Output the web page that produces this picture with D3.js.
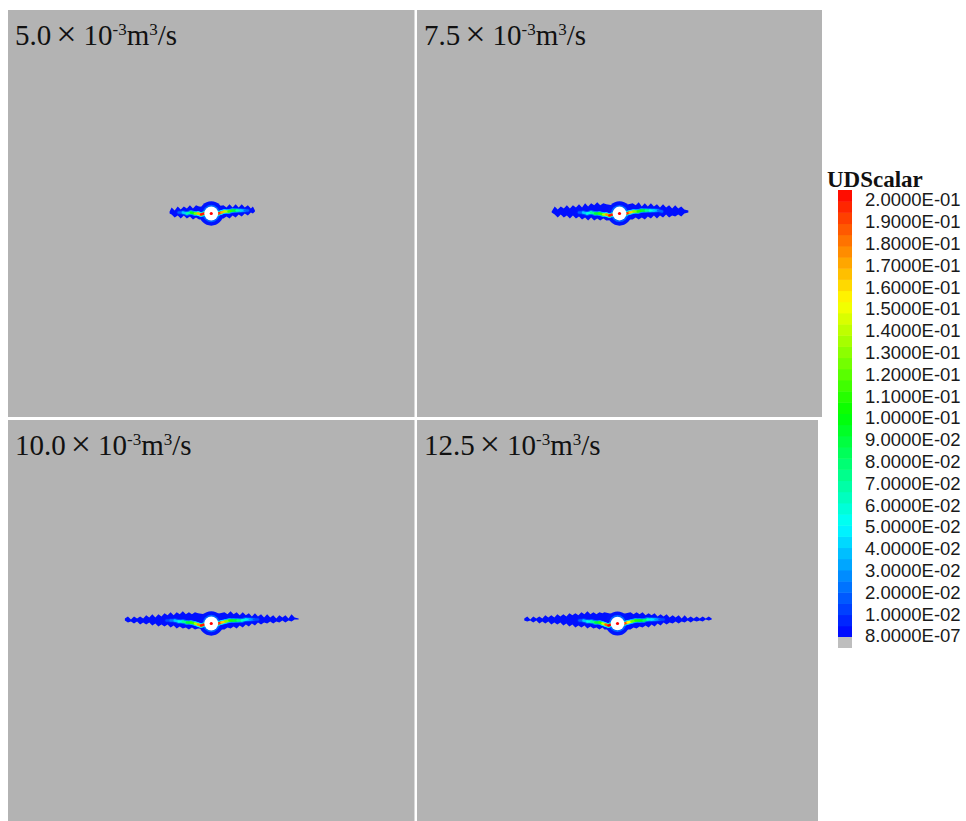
<!DOCTYPE html>
<html lang="en">

<head>
    <meta charset="UTF-8">
    <title>UDScalar fracture panels</title>
    <script src="https://d3js.org/d3.v7.min.js"></script>
    <style>
        body {
            margin: 0;
            background: #fff;
        }
    </style>
</head>

<body>
    <div id="chart"></div>
    <script>
        // Injection rates (x10^-3 m3/s), one per panel
        const rates = ["5.0", "7.5", "10.0", "12.5"];

        // Crack envelope per panel: [x (m), upper edge (m), lower edge (m)]
        const crack50 = [
            [-4.1, 0.2, 0.0], [-3.9, 0.6, -0.1], [-3.6, 0.3, -0.4], [-3.3, 0.7, -0.2],
            [-3.0, 0.4, -0.5], [-2.7, 0.7, -0.2], [-2.4, 0.5, -0.5], [-2.1, 0.8, -0.3],
            [-1.8, 0.5, -0.6], [-1.5, 0.8, -0.4], [-1.2, 0.7, -0.6], [0, 0.6, -0.5],
            [1.2, 0.8, -0.5], [1.5, 0.6, -0.3], [1.8, 0.9, -0.5], [2.1, 0.6, -0.2],
            [2.4, 0.9, -0.4], [2.7, 0.6, -0.1], [3.0, 0.9, -0.3], [3.3, 0.6, 0.0],
            [3.6, 0.8, -0.2], [3.9, 0.5, 0.1], [4.1, 0.7, 0.0], [4.3, 0.3, 0.2]
        ];
        const crack75 = [
            [-6.7, 0.2, 0.1], [-6.4, 0.7, -0.1], [-6.1, 0.4, -0.4], [-5.8, 0.7, -0.1],
            [-5.5, 0.5, -0.4], [-5.2, 0.8, -0.2], [-4.9, 0.5, -0.5], [-4.6, 0.8, -0.2],
            [-4.3, 0.6, -0.5], [-4.0, 0.9, -0.3], [-3.7, 0.6, -0.6], [-3.4, 1.0, -0.4],
            [-3.1, 0.7, -0.7], [-2.8, 1.0, -0.4], [-2.5, 0.8, -0.7], [-2.2, 1.1, -0.5],
            [-1.9, 0.8, -0.7], [-1.6, 1.0, -0.5], [-1.3, 0.9, -0.7], [0, 0.7, -0.6],
            [1.3, 1.0, -0.6], [1.6, 0.8, -0.4], [1.9, 1.1, -0.6], [2.2, 0.7, -0.4],
            [2.5, 1.0, -0.6], [2.8, 0.7, -0.3], [3.1, 1.0, -0.5], [3.4, 0.7, -0.2],
            [3.7, 0.9, -0.5], [4.0, 0.6, -0.2], [4.3, 0.9, -0.4], [4.6, 0.6, -0.1],
            [4.9, 0.8, -0.4], [5.2, 0.5, -0.2], [5.5, 0.8, -0.3], [5.8, 0.5, -0.1],
            [6.1, 0.7, -0.3], [6.4, 0.4, 0.0], [6.8, 0.3, 0.1]
        ];
        const crack100 = [
            [-8.5, 0.5, 0.3], [-8.2, 0.7, 0.1], [-7.9, 0.4, 0.2], [-7.6, 0.7, 0.0],
            [-7.3, 0.5, 0.2], [-7.0, 0.7, -0.1], [-6.7, 0.5, 0.1], [-6.4, 0.8, -0.1],
            [-6.1, 0.6, 0.1], [-5.8, 0.9, -0.2], [-5.5, 0.6, 0.0], [-5.2, 0.9, -0.3],
            [-4.9, 0.7, -0.1], [-4.6, 1.0, -0.3], [-4.3, 0.8, -0.1], [-4.0, 1.1, -0.4],
            [-3.7, 0.8, -0.2], [-3.4, 1.1, -0.5], [-3.1, 0.9, -0.3], [-2.8, 1.2, -0.5],
            [-2.5, 0.9, -0.4], [-2.2, 1.1, -0.6], [-1.9, 0.9, -0.4], [-1.6, 1.1, -0.6],
            [-1.3, 1.0, -0.5], [0, 0.8, -0.6], [1.3, 1.1, -0.6], [1.6, 0.9, -0.4],
            [1.9, 1.2, -0.5], [2.2, 0.9, -0.3], [2.5, 1.1, -0.5], [2.8, 0.8, -0.2],
            [3.1, 1.1, -0.4], [3.4, 0.8, -0.1], [3.7, 1.0, -0.3], [4.0, 0.7, 0.0],
            [4.3, 1.0, -0.2], [4.6, 0.7, 0.1], [4.9, 0.9, -0.1], [5.2, 0.6, 0.1],
            [5.5, 0.9, 0.0], [5.8, 0.6, 0.2], [6.1, 0.8, 0.0], [6.4, 0.5, 0.2],
            [6.7, 0.8, 0.1], [7.0, 0.6, 0.3], [7.3, 0.8, 0.1], [7.6, 0.5, 0.3],
            [7.9, 0.9, 0.2], [8.2, 0.6, 0.4], [8.6, 0.5, 0.4]
        ];
        const crack125 = [
            [-9.3, 0.5, 0.3], [-9.0, 0.7, 0.2], [-8.7, 0.4, 0.3], [-8.4, 0.7, 0.1],
            [-8.1, 0.5, 0.3], [-7.8, 0.7, 0.0], [-7.5, 0.5, 0.2], [-7.2, 0.8, 0.0],
            [-6.9, 0.6, 0.2], [-6.6, 0.8, -0.1], [-6.3, 0.6, 0.1], [-6.0, 0.9, -0.1],
            [-5.7, 0.7, 0.1], [-5.4, 0.9, -0.2], [-5.1, 0.7, 0.0], [-4.8, 1.0, -0.3],
            [-4.5, 0.8, -0.1], [-4.2, 1.0, -0.4], [-3.9, 0.8, -0.2], [-3.6, 1.1, -0.4],
            [-3.3, 0.9, -0.2], [-3.0, 1.2, -0.5], [-2.7, 0.9, -0.3], [-2.4, 1.1, -0.5],
            [-2.1, 0.9, -0.4], [-1.8, 1.1, -0.6], [-1.5, 1.0, -0.4], [-1.3, 1.1, -0.6],
            [0, 0.8, -0.6], [1.3, 1.1, -0.6], [1.6, 0.9, -0.4], [1.9, 1.1, -0.5],
            [2.2, 0.9, -0.3], [2.5, 1.1, -0.4], [2.8, 0.8, -0.2], [3.1, 1.0, -0.4],
            [3.4, 0.8, -0.1], [3.7, 1.0, -0.3], [4.0, 0.7, 0.0], [4.3, 0.9, -0.2],
            [4.6, 0.7, 0.1], [4.9, 0.9, -0.1], [5.2, 0.6, 0.1], [5.5, 0.8, 0.0],
            [5.8, 0.6, 0.2], [6.1, 0.8, 0.0], [6.4, 0.5, 0.2], [6.7, 0.8, 0.1],
            [7.0, 0.5, 0.3], [7.3, 0.7, 0.1], [7.6, 0.5, 0.3], [7.9, 0.7, 0.2],
            [8.2, 0.5, 0.3], [8.5, 0.7, 0.2], [8.8, 0.5, 0.4], [9.1, 0.7, 0.3],
            [9.4, 0.5, 0.4]
        ];

        // Crack core per panel: [x (m), y (m), UDScalar]
        const core50 = [
            [-3.2, 0.1, 0.01], [-2.8, 0.1, 0.03], [-2.4, 0.0, 0.05], [-2.0, 0.1, 0.08],
            [-1.6, 0.0, 0.11], [-1.3, 0.0, 0.14], [-1.0, -0.1, 0.19], [-0.7, 0.0, 0.2],
            [0.7, 0.0, 0.2], [1.0, 0.1, 0.18], [1.3, 0.2, 0.15], [1.7, 0.2, 0.12],
            [2.1, 0.3, 0.10], [2.5, 0.3, 0.08], [2.9, 0.3, 0.05], [3.3, 0.3, 0.03],
            [3.6, 0.3, 0.01]
        ];
        const core75 = [
            [-4.0, 0.1, 0.01], [-3.6, 0.1, 0.03], [-3.2, 0.0, 0.05], [-2.8, 0.1, 0.06],
            [-2.4, 0.0, 0.08], [-2.0, 0.0, 0.10], [-1.6, -0.1, 0.12], [-1.3, -0.1, 0.15],
            [-1.0, -0.2, 0.19], [-0.7, -0.1, 0.2],
            [0.7, 0.0, 0.2], [1.0, 0.1, 0.18], [1.4, 0.2, 0.14], [1.8, 0.2, 0.11],
            [2.2, 0.3, 0.10], [2.6, 0.3, 0.08], [3.0, 0.3, 0.06], [3.4, 0.3, 0.05],
            [3.8, 0.3, 0.03], [4.2, 0.2, 0.01]
        ];
        const core100 = [
            [-4.4, 0.3, 0.01], [-4.0, 0.3, 0.02], [-3.6, 0.3, 0.03], [-3.2, 0.2, 0.05],
            [-2.8, 0.2, 0.06], [-2.4, 0.1, 0.08], [-2.0, 0.1, 0.10], [-1.6, 0.0, 0.12],
            [-1.3, -0.1, 0.15], [-1.0, -0.2, 0.19], [-0.7, -0.1, 0.2],
            [0.7, 0.0, 0.2], [1.0, 0.1, 0.18], [1.4, 0.2, 0.14], [1.8, 0.3, 0.11],
            [2.2, 0.3, 0.10], [2.6, 0.3, 0.08], [3.0, 0.3, 0.07], [3.4, 0.4, 0.05],
            [3.8, 0.4, 0.04], [4.2, 0.4, 0.02], [4.6, 0.4, 0.01]
        ];
        const core125 = [
            [-3.8, 0.3, 0.01], [-3.4, 0.3, 0.03], [-3.0, 0.2, 0.05], [-2.6, 0.2, 0.06],
            [-2.2, 0.1, 0.08], [-1.8, 0.1, 0.10], [-1.5, 0.0, 0.12], [-1.2, -0.1, 0.16],
            [-0.9, -0.2, 0.2], [-0.7, -0.1, 0.2],
            [0.7, 0.0, 0.2], [1.0, 0.1, 0.17], [1.4, 0.2, 0.13], [1.8, 0.3, 0.11],
            [2.2, 0.3, 0.10], [2.6, 0.3, 0.09], [3.0, 0.4, 0.07], [3.4, 0.4, 0.05],
            [3.8, 0.4, 0.04], [4.2, 0.4, 0.02], [4.6, 0.4, 0.01]
        ];

        // Legend values (colour bar labels)
        const legendValues = [0.2, 0.19, 0.18, 0.17, 0.16, 0.15, 0.14, 0.13, 0.12, 0.11, 0.1,
            0.09, 0.08, 0.07, 0.06, 0.05, 0.04, 0.03, 0.02, 0.01, 8e-7];

        const outlines = [crack50, crack75, crack100, crack125];
        const cores = [core50, core75, core100, core125];

        const width = 966, height = 821;
        const svg = d3.select("#chart").append("svg")
            .attr("width", width)
            .attr("height", height)
            .style("display", "block");

        // rainbow colour map
        const color = d3.scaleLinear()
            .domain([0, 0.05, 0.1, 0.15, 0.2])
            .range(["#0000ff", "#00ffff", "#00ff00", "#ffff00", "#ff0000"])
            .clamp(true);

        // panel boxes: [x, y, w, h]
        const boxes = [[8, 10, 406.5, 407], [417, 10, 405, 407], [8, 420, 406.5, 407], [417, 420, 401, 407]];

        boxes.forEach((b, i) => {
            const [bx, by, bw, bh] = b;
            const x = d3.scaleLinear().domain([-20, 20]).range([bx, bx + bw]);
            const y = d3.scaleLinear().domain([-20, 20]).range([by + bh, by]);
            const g = svg.append("g");

            g.append("rect")
                .attr("x", bx).attr("y", by)
                .attr("width", bw).attr("height", bh)
                .attr("fill", "#b3b3b3");

            // blue envelope of the crack
            const area = d3.area()
                .x(d => x(d[0]))
                .y0(d => y(d[2]))
                .y1(d => y(d[1]));
            g.append("path")
                .attr("d", area(outlines[i]))
                .attr("fill", color(0.003));

            // disturbed ring round the borehole
            g.append("circle")
                .attr("cx", x(0)).attr("cy", y(0))
                .attr("r", x(1.2) - x(0))
                .attr("fill", color(0.004));
            g.append("circle")
                .attr("cx", x(0)).attr("cy", y(0))
                .attr("r", x(0.85) - x(0))
                .attr("fill", color(0.02));

            // core of the crack, coloured by value
            const segs = d3.pairs(cores[i]).filter(([a, b]) => Math.sign(a[0]) === Math.sign(b[0]));
            g.selectAll(".halo")
                .data(segs)
                .join("line")
                .attr("class", "halo")
                .attr("x1", d => x(d[0][0])).attr("y1", d => y(d[0][1]))
                .attr("x2", d => x(d[1][0])).attr("y2", d => y(d[1][1]))
                .attr("stroke", d => color((d[0][2] + d[1][2]) / 2 * 0.3))
                .attr("stroke-width", 4.5)
                .attr("stroke-linecap", "round");
            g.selectAll(".core")
                .data(segs)
                .join("line")
                .attr("class", "core")
                .attr("x1", d => x(d[0][0])).attr("y1", d => y(d[0][1]))
                .attr("x2", d => x(d[1][0])).attr("y2", d => y(d[1][1]))
                .attr("stroke", d => color((d[0][2] + d[1][2]) / 2))
                .attr("stroke-width", 2.5)
                .attr("stroke-linecap", "round");

            // borehole
            g.append("circle")
                .attr("cx", x(0)).attr("cy", y(0))
                .attr("r", x(0.68) - x(0))
                .attr("fill", "#fff");
            g.append("circle")
                .attr("cx", x(0)).attr("cy", y(0))
                .attr("r", 1.6)
                .attr("fill", "#ff0000");

            // rate label
            const t = g.append("text")
                .attr("x", bx + 7)
                .attr("y", by + 35)
                .attr("font-family", "'Liberation Serif', 'Times New Roman', serif")
                .attr("font-size", 29)
                .attr("fill", "#111");
            t.append("tspan").text(rates[i]);
            t.append("tspan").attr("dx", 5).attr("font-size", 36).attr("dy", 1).text("×");
            t.append("tspan").attr("dx", 7).attr("dy", -1).text("10");
            t.append("tspan").attr("font-size", 17).attr("dy", -10).text("-3");
            t.append("tspan").attr("dy", 10).text("m");
            t.append("tspan").attr("font-size", 17).attr("dy", -10).text("3");
            t.append("tspan").attr("dy", 10).text("/s");
        });

        // colour bar legend
        const barX = 838, barW = 14, barTop = 190, barBottom = 637;
        const barY = d3.scaleLinear().domain([0.2, 0]).range([barTop, barBottom]);
        const bands = d3.range(0, 0.2, 0.005);

        svg.append("text")
            .attr("x", 827)
            .attr("y", 187)
            .attr("font-family", "'Liberation Serif', 'Times New Roman', serif")
            .attr("font-weight", "bold")
            .attr("font-size", 23)
            .attr("fill", "#111")
            .text("UDScalar");

        svg.append("g").selectAll("rect")
            .data(bands)
            .join("rect")
            .attr("x", barX)
            .attr("y", d => barY(d + 0.005))
            .attr("width", barW)
            .attr("height", d => barY(d) - barY(d + 0.005) + 0.5)
            .attr("fill", d => color(d + 0.0025));

        svg.append("rect")
            .attr("x", barX).attr("y", barBottom)
            .attr("width", barW).attr("height", 11)
            .attr("fill", "#bebebe");

        const fmt = v => {
            const [m, e] = v.toExponential(4).split("e");
            const n = Math.abs(+e);
            return m + "E" + (+e < 0 ? "-" : "+") + (n < 10 ? "0" + n : n);
        };
        const labelY = d3.scaleLinear().domain([0, legendValues.length - 1]).range([200, 636]);

        svg.append("g").selectAll("text")
            .data(legendValues)
            .join("text")
            .attr("x", 865)
            .attr("y", (d, i) => labelY(i))
            .attr("dy", "0.35em")
            .attr("font-family", "'Liberation Sans', Arial, sans-serif")
            .attr("font-size", 18.5)
            .attr("fill", "#1a1a1a")
            .text(fmt);
    </script>
</body>

</html>
